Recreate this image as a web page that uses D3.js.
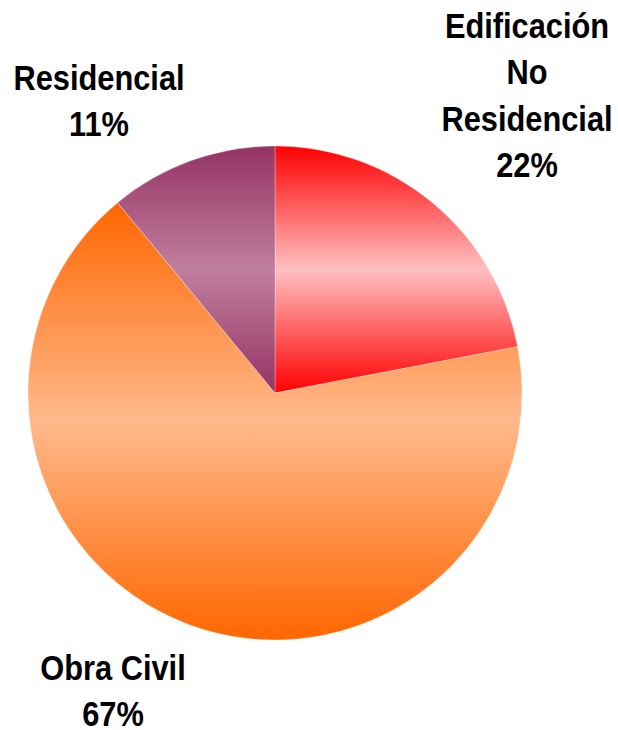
<!DOCTYPE html>
<html><head><meta charset="utf-8">
<script src="https://cdn.jsdelivr.net/npm/d3@7/dist/d3.min.js"></script>
<style>body{margin:0;background:#fff}svg{display:block}</style>
</head><body>
<script>
const categories = ["Edificación No Residencial", "Obra Civil", "Residencial"];
const values = [22, 67, 11];
const labelLines = [["Edificación","No","Residencial","22%"],["Obra Civil","67%"],["Residencial","11%"]];
const edgeColors = ["#FF0000", "#FF6600", "#943462"];
const midColors = ["#FFC0C2", "#FFB98C", "#C07EA0"];

const W = 618, H = 730, cx = 275, cy = 393, R = 247;
const svg = d3.select("body").append("svg").attr("width", W).attr("height", H);
const defs = svg.append("defs");
categories.forEach((c, i) => {
  const g = defs.append("linearGradient").attr("id", "g" + i)
    .attr("x1", 0).attr("y1", 0).attr("x2", 0).attr("y2", 1);
  g.append("stop").attr("offset", "0%").attr("stop-color", edgeColors[i]);
  g.append("stop").attr("offset", "50%").attr("stop-color", midColors[i]);
  g.append("stop").attr("offset", "100%").attr("stop-color", edgeColors[i]);
});

const pie = d3.pie().sort(null).value(d => d)(values);
const arc = d3.arc().innerRadius(0).outerRadius(R);
const gp = svg.append("g").attr("transform", `translate(${cx},${cy})`);
gp.selectAll("path").data(pie).join("path")
  .attr("d", arc)
  .attr("fill", (d, i) => `url(#g${i})`)
  .attr("stroke", "rgba(255,255,255,0.5)").attr("stroke-width", 0.6);

const labelPos = [[527, 38], [113, 680], [99, 90]];
const lh = 46.5;
labelLines.forEach((lines, i) => {
  const t = svg.append("text").attr("text-anchor", "middle")
    .attr("transform", `translate(${labelPos[i][0]},${labelPos[i][1]}) scale(0.88,1)`)
    .attr("font-family", "'Liberation Sans','Arial',sans-serif")
    .attr("font-weight", "bold").attr("font-size", 35).attr("fill", "#000");
  lines.forEach((l, j) => {
    t.append("tspan").attr("x", 0).attr("y", j * lh).text(l);
  });
});
</script>
</body></html>
